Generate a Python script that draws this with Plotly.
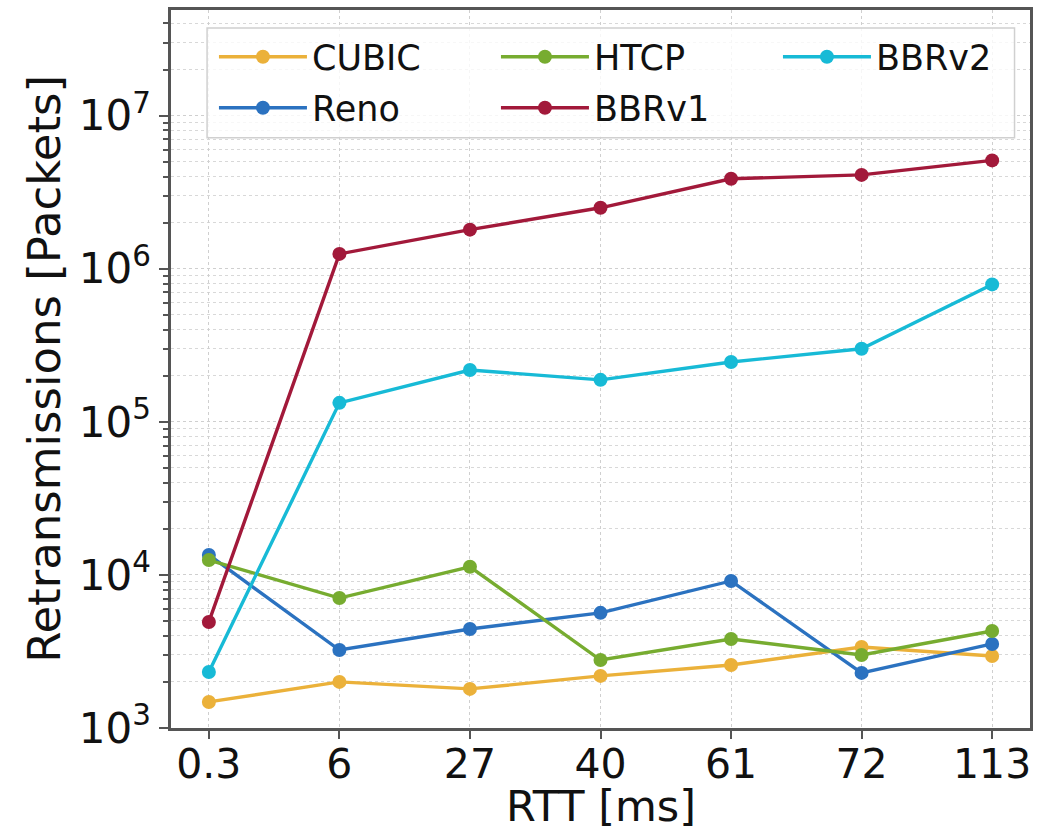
import numpy as np
import plotly.graph_objects as go

rtt_labels = ["0.3", "6", "27", "40", "61", "72", "113"]

cubic = [1480, 2000, 1800, 2190, 2580, 3380, 2950]
reno = [13500, 3230, 4430, 5650, 9130, 2290, 3540]
htcp = [12500, 7060, 11300, 2780, 3810, 3000, 4300]
bbrv1 = [4930, 1.25e6, 1.8e6, 2.5e6, 3.87e6, 4.1e6, 5.1e6]
bbrv2 = [2320, 1.33e5, 2.18e5, 1.88e5, 2.46e5, 3.0e5, 7.9e5]

# (name, values, colour, legend row, rank within row)
series = [
    ("CUBIC", cubic, "#EBB13A", "legend", 1),
    ("Reno", reno, "#2B72C0", "legend2", 1),
    ("HTCP", htcp, "#77AC30", "legend", 2),
    ("BBRv1", bbrv1, "#A2193A", "legend2", 2),
    ("BBRv2", bbrv2, "#17BAD6", "legend", 3),
]

y_ticks = [1e3, 1e4, 1e5, 1e6, 1e7]
y_ticktext = ["10<sup>3</sup>", "10<sup>4</sup>", "10<sup>5</sup>", "10<sup>6</sup>", "10<sup>7</sup>"]

FONT = "DejaVu Sans"
xs = list(range(len(rtt_labels)))

fig = go.Figure()
for name, vals, color, lg, rank in series:
    fig.add_trace(go.Scatter(
        x=xs, y=vals, name=name, mode="lines+markers",
        line=dict(color=color, width=3.4),
        marker=dict(color=color, size=14, symbol="circle"),
        legend=lg, legendrank=rank,
    ))

minor_vals = [m * 10 ** e for e in range(2, 8) for m in range(2, 10)]

axis_common = dict(
    showline=True, linecolor="#555555", linewidth=2.5, mirror=True,
    ticks="outside", tickcolor="#555555", tickwidth=2,
    gridcolor="#cfcfcf", griddash="dot", gridwidth=1.2,
    zeroline=False, automargin=False,
)

fig.update_xaxes(
    tickmode="array", tickvals=xs, ticktext=rtt_labels,
    range=[-0.29, 6.29], ticklen=8, ticklabelstandoff=-10,
    tickfont=dict(family=FONT, size=41, color="#111"),
    **axis_common,
)
fig.update_yaxes(
    type="log", range=[3, 7.69],
    tickmode="array", tickvals=y_ticks, ticktext=y_ticktext, ticklen=9,
    tickfont=dict(family=FONT, size=42, color="#111"),
    minor=dict(tickmode="array", tickvals=minor_vals, ticks="outside", ticklen=5,
               tickcolor="#555555", tickwidth=1.5, showgrid=True,
               gridcolor="#d8d8d8", griddash="dot", gridwidth=1.2),
    **axis_common,
)

legend_common = dict(
    orientation="h", bgcolor="rgba(0,0,0,0)", borderwidth=0,
    font=dict(family=FONT, size=35, color="#111"),
    itemwidth=88, entrywidth=179, entrywidthmode="pixels",
    yanchor="middle", xanchor="left", traceorder="normal",
)
fig.update_layout(
    width=1053, height=835,
    margin=dict(l=171, r=23, t=10, b=107, autoexpand=False),
    plot_bgcolor="white", paper_bgcolor="white",
    showlegend=True,
    legend=dict(x=0.05, y=0.9345, **legend_common),
    legend2=dict(x=0.05, y=0.8635, **legend_common),
    shapes=[dict(
        type="rect", xref="paper", yref="paper", layer="above",
        x0=0.042, x1=0.982, y0=0.822, y1=0.975,
        fillcolor="rgba(255,255,255,0.8)", line=dict(color="#d0d0d0", width=1.5),
    )],
    annotations=[
        dict(text="RTT [ms]", xref="paper", yref="paper", x=0.5, y=-0.146,
             xanchor="center", yanchor="bottom", showarrow=False,
             font=dict(family=FONT, size=43, color="#111")),
        dict(text="Retransmissions [Packets]", xref="paper", yref="paper",
             x=-0.148, y=0.5, textangle=-90, xanchor="center", yanchor="middle",
             showarrow=False, font=dict(family=FONT, size=45, color="#111")),
    ],
)

fig.write_html(
    "out.html",
    config={"responsive": False, "displayModeBar": False},
    post_script="document.body.style.margin='0';document.body.style.overflow='hidden';",
)
